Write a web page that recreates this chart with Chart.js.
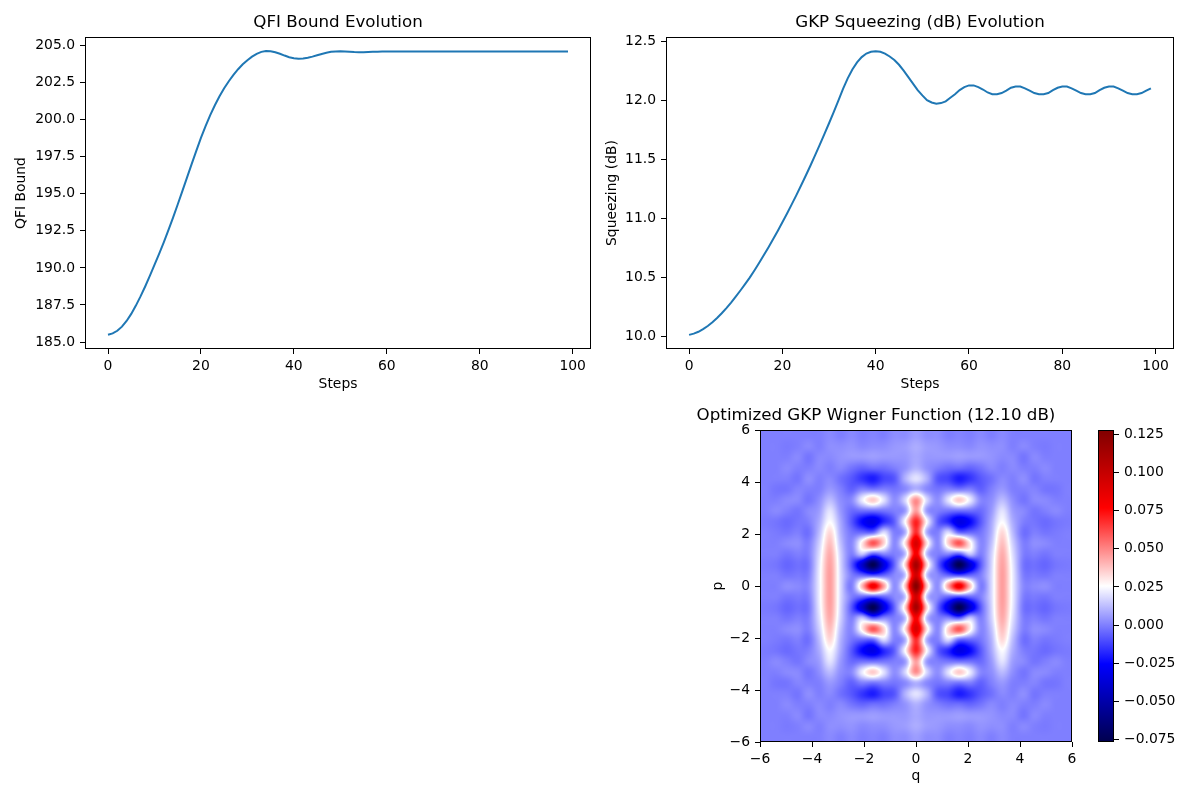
<!DOCTYPE html>
<html>
<head>
<meta charset="utf-8">
<script src="https://cdn.jsdelivr.net/npm/chart.js@4.4.0/dist/chart.umd.min.js"></script>
<style>
  body { margin: 0; background: #fff; }
  #page { position: relative; width: 1200px; height: 800px; }
  .box { position: absolute; }
</style>
</head>
<body>
<div id="page">
  <div class="box" style="left:0;top:0;width:600px;height:400px"><canvas id="qfiChart"></canvas></div>
  <div class="box" style="left:600px;top:0;width:600px;height:400px"><canvas id="sqzChart"></canvas></div>
  <div class="box" style="left:680px;top:395px;width:472px;height:405px"><canvas id="wignerChart"></canvas></div>
  <div class="box" style="left:1090px;top:395px;width:110px;height:405px"><canvas id="cbarChart"></canvas></div>
</div>
<script>
// one value per optimisation step (step = array index)
const qfiBound = [
  185.49, 185.58, 185.76, 186.04, 186.42, 186.90, 187.46, 188.08, 188.75, 189.46,
  190.20, 190.95, 191.73, 192.55, 193.40, 194.28, 195.18, 196.09, 197.00, 197.90,
  198.77, 199.57, 200.31, 200.98, 201.58, 202.12, 202.60, 203.03, 203.41, 203.74,
  204.02, 204.26, 204.45, 204.58, 204.64, 204.62, 204.55, 204.45, 204.33, 204.22,
  204.15, 204.12, 204.13, 204.18, 204.26, 204.35, 204.44, 204.52, 204.58, 204.61,
  204.62, 204.61, 204.59, 204.57, 204.56, 204.56, 204.57, 204.58, 204.59, 204.6,
  204.6, 204.61, 204.61, 204.6, 204.6, 204.6, 204.6, 204.6, 204.61, 204.6,
  204.6, 204.6, 204.6, 204.6, 204.6, 204.6, 204.6, 204.6, 204.6, 204.6,
  204.6, 204.6, 204.6, 204.6, 204.6, 204.6, 204.6, 204.6, 204.6, 204.6,
  204.6, 204.6, 204.6, 204.6, 204.6, 204.6, 204.6, 204.6, 204.6, 204.6
];
const squeezingDb = [
  10.010, 10.020, 10.036, 10.058, 10.085, 10.117, 10.153, 10.193, 10.237, 10.284,
  10.334, 10.386, 10.440, 10.495, 10.556, 10.619, 10.684, 10.751, 10.820, 10.891,
  10.964, 11.039, 11.116, 11.195, 11.276, 11.359, 11.444, 11.531, 11.620, 11.711,
  11.804, 11.899, 11.996, 12.095, 12.185, 12.26, 12.32, 12.365, 12.395, 12.41,
  12.415, 12.41, 12.395, 12.37, 12.34, 12.3, 12.25, 12.195, 12.14, 12.085,
  12.04, 12.0, 11.98, 11.97, 11.975, 11.99, 12.02, 12.05, 12.085, 12.11,
  12.125, 12.125, 12.11, 12.09, 12.065, 12.05, 12.05, 12.06, 12.08, 12.105,
  12.115, 12.115, 12.1, 12.08, 12.06, 12.05, 12.05, 12.06, 12.085, 12.105,
  12.115, 12.115, 12.1, 12.08, 12.06, 12.05, 12.05, 12.06, 12.085, 12.105,
  12.115, 12.115, 12.1, 12.08, 12.06, 12.05, 12.05, 12.06, 12.08, 12.1
];

const stepTicks = [0, 20, 40, 60, 80, 100];
const qfiTicks = [185, 187.5, 190, 192.5, 195, 197.5, 200, 202.5, 205];
const squeezingTicks = [10, 10.5, 11, 11.5, 12, 12.5];
const phaseTicks = [-6, -4, -2, 0, 2, 4, 6];
const colorbarTicks = [-0.075, -0.05, -0.025, 0, 0.025, 0.05, 0.075, 0.1, 0.125];

// Wigner function W(q,p) in thousandths, 29x29 cells over extent [-6,6]x[-6,6]
// rows run from p = +6 (top) down to p = -6, columns from q = -6 to q = +6
const wignerExtent = [-6, 6, -6, 6];
const wignerMilli = [
  [0,0,0,0,0,0,2,0,2,0,1,0,3,3,6,3,3,0,1,0,2,0,2,0,0,0,0,0,0],
  [0,0,-1,0,2,0,3,3,4,2,3,3,5,6,9,6,5,3,3,2,4,3,3,0,2,0,-1,0,0],
  [0,0,0,2,-2,2,2,4,5,5,6,5,5,5,8,5,5,5,6,5,5,4,2,2,-2,2,0,0,0],
  [0,0,2,0,0,2,0,2,-2,-5,-3,-3,0,4,10,4,0,-3,-3,-5,-2,2,0,2,0,0,2,0,0],
  [0,0,0,-2,3,0,2,-3,-8,-15,-20,-12,-8,10,20,10,-8,-12,-20,-15,-8,-3,2,0,3,-2,0,0,0],
  [0,-2,-2,1,0,0,5,0,-6,0,-2,0,-2,2,10,2,-2,0,-2,0,-6,0,5,0,0,1,-2,-2,0],
  [0,0,2,2,-2,3,12,3,2,22,36,20,3,18,48,18,3,20,36,22,2,3,12,3,-2,2,2,0,0],
  [0,2,0,-2,2,6,20,5,-4,-3,-3,-2,0,6,45,6,0,-2,-3,-3,-4,5,20,6,2,-2,0,2,0],
  [-1,-2,-4,-2,0,9,25,8,-8,-25,-33,-18,-6,26,70,26,-6,-18,-33,-25,-8,8,25,9,0,-2,-4,-2,-1],
  [0,-1,-2,0,-3,12,33,10,-2,-5,-5,18,0,10,68,10,0,18,-5,-5,-2,10,33,12,-3,0,-2,-1,0],
  [0,0,2,3,0,16,38,13,2,30,60,35,2,32,92,32,2,35,60,30,2,13,38,16,0,3,2,0,0],
  [0,0,-2,0,0,19,42,16,0,15,-5,2,0,13,80,13,0,2,-5,15,0,16,42,19,0,0,-2,0,0],
  [-1,-2,-5,-3,-2,21,44,17,-8,-40,-75,-35,-5,35,112,35,-5,-35,-75,-40,-8,17,44,21,-2,-3,-5,-2,-1],
  [0,0,-2,-1,0,22,45,18,0,-5,-10,-5,2,15,95,15,2,-5,-10,-5,0,18,45,22,0,-1,-2,0,0],
  [0,0,3,2,2,22,45,18,0,40,82,45,3,38,125,38,3,45,82,40,0,18,45,22,2,2,3,0,0],
  [0,0,-2,-1,0,22,45,18,0,-5,-10,-5,2,15,95,15,2,-5,-10,-5,0,18,45,22,0,-1,-2,0,0],
  [-1,-2,-5,-3,-2,21,44,17,-8,-40,-75,-35,-5,35,112,35,-5,-35,-75,-40,-8,17,44,21,-2,-3,-5,-2,-1],
  [0,0,-2,0,0,19,42,16,0,15,-5,2,0,13,80,13,0,2,-5,15,0,16,42,19,0,0,-2,0,0],
  [0,0,2,3,0,16,38,13,2,30,60,35,2,32,92,32,2,35,60,30,2,13,38,16,0,3,2,0,0],
  [0,-1,-2,0,-3,12,33,10,-2,-5,-5,18,0,10,68,10,0,18,-5,-5,-2,10,33,12,-3,0,-2,-1,0],
  [-1,-2,-4,-2,0,9,25,8,-8,-25,-33,-18,-6,26,70,26,-6,-18,-33,-25,-8,8,25,9,0,-2,-4,-2,-1],
  [0,2,0,-2,2,6,20,5,-4,-3,-3,-2,0,6,45,6,0,-2,-3,-3,-4,5,20,6,2,-2,0,2,0],
  [0,0,2,2,-2,3,12,3,2,22,36,20,3,18,48,18,3,20,36,22,2,3,12,3,-2,2,2,0,0],
  [0,-2,-2,1,0,0,5,0,-6,0,-2,0,-2,2,10,2,-2,0,-2,0,-6,0,5,0,0,1,-2,-2,0],
  [0,0,0,-2,3,0,2,-3,-8,-15,-20,-12,-8,10,20,10,-8,-12,-20,-15,-8,-3,2,0,3,-2,0,0,0],
  [0,0,2,0,0,2,0,2,-2,-5,-3,-3,0,4,10,4,0,-3,-3,-5,-2,2,0,2,0,0,2,0,0],
  [0,0,0,2,-2,2,2,4,5,5,6,5,5,5,8,5,5,5,6,5,5,4,2,2,-2,2,0,0,0],
  [0,0,-1,0,2,0,3,3,4,2,3,3,5,6,9,6,5,3,3,2,4,3,3,0,2,0,-1,0,0],
  [0,0,0,0,0,0,2,0,2,0,1,0,3,3,6,3,3,0,1,0,2,0,2,0,0,0,0,0,0]
];
const wignerMin = -0.0766;
const wignerMax = 0.1278;

// matplotlib "seismic" colormap stops
const seismic = [[0, 0, 0, 76.5], [0.25, 0, 0, 255], [0.5, 255, 255, 255], [0.75, 255, 0, 0], [1, 127.5, 0, 0]];

Chart.defaults.font.family = "'DejaVu Sans', sans-serif";
Chart.defaults.color = '#000';
Chart.defaults.animation = false;

const FONT = 13.9;
const TITLE_FONT = 16.7;

function fmt(v, digits) {
  return v.toFixed(digits).replace('-', '\u2212');
}

function axis(o) {
  const vertical = o.pos === 'left' || o.pos === 'right';
  return {
    type: 'linear',
    position: o.pos,
    min: o.min,
    max: o.max,
    afterBuildTicks: s => { s.ticks = o.ticks.map(v => ({ value: v })); },
    afterFit: s => { if (vertical) s.width = o.size; else s.height = o.size; },
    grid: { drawOnChartArea: false, drawTicks: true, tickLength: 5, color: '#000', lineWidth: 1 },
    border: { display: false },
    ticks: { color: '#000', font: { size: FONT }, padding: vertical ? 5 : 4, maxRotation: 0, autoSkip: false,
      callback: v => fmt(v, o.digits) },
    title: { display: !!o.title, text: o.title, color: '#000', font: { size: FONT }, padding: o.titlePad || 0 }
  };
}

function titleOpts(text, top, bottom, full) {
  return { display: true, text: text, fullSize: !!full, color: '#000',
    font: { size: TITLE_FONT, weight: 'normal' }, padding: { top: top, bottom: bottom } };
}

// axes frame (all four spines)
const framePlugin = {
  id: 'frame',
  afterDraw(chart) {
    const a = chart.chartArea, ctx = chart.ctx;
    const l = Math.round(a.left) + 0.5, t = Math.round(a.top) + 0.5;
    const r = Math.round(a.right) - 0.5, b = Math.round(a.bottom) - 0.5;
    ctx.save();
    ctx.strokeStyle = '#000';
    ctx.lineWidth = 1;
    ctx.strokeRect(l, t, r - l, b - t);
    ctx.restore();
  }
};

function seismicColor(v) {
  let f = (v - wignerMin) / (wignerMax - wignerMin);
  f = Math.max(0, Math.min(1, f));
  for (let k = 1; k < seismic.length; k++) {
    if (f <= seismic[k][0]) {
      const s0 = seismic[k - 1], s1 = seismic[k];
      const t = (f - s0[0]) / (s1[0] - s0[0]);
      return [s0[1] + t * (s1[1] - s0[1]), s0[2] + t * (s1[2] - s0[2]), s0[3] + t * (s1[3] - s0[3])];
    }
  }
  return seismic[seismic.length - 1].slice(1);
}

function cubic(p0, p1, p2, p3, t) {
  return p1 + 0.5 * t * (p2 - p0 + t * (2 * p0 - 5 * p1 + 4 * p2 - p3 + t * (3 * (p1 - p2) + p3 - p0)));
}

// bicubic resampling of the cell grid, like imshow does when it renders
function sampleWigner(fr, fc) {
  const n = wignerMilli.length, m = wignerMilli[0].length;
  const r0 = Math.floor(fr), c0 = Math.floor(fc);
  const vals = [];
  for (let k = -1; k <= 2; k++) {
    const row = wignerMilli[Math.min(n - 1, Math.max(0, r0 + k))];
    const g = j => row[Math.min(m - 1, Math.max(0, c0 + j))];
    vals.push(cubic(g(-1), g(0), g(1), g(2), fc - c0));
  }
  return cubic(vals[0], vals[1], vals[2], vals[3], fr - r0) / 1000;
}

const wignerPlugin = {
  id: 'wigner',
  beforeDatasetsDraw(chart) {
    const { ctx, chartArea: a, scales: { x, y } } = chart;
    const w = Math.round(a.right - a.left), h = Math.round(a.bottom - a.top);
    const off = document.createElement('canvas');
    off.width = w; off.height = h;
    const octx = off.getContext('2d');
    const img = octx.createImageData(w, h);
    const rows = wignerMilli.length, cols = wignerMilli[0].length;
    const [q0, q1, p0, p1] = wignerExtent;
    for (let j = 0; j < h; j++) {
      const p = y.getValueForPixel(a.top + j + 0.5);
      const fr = (p1 - p) / (p1 - p0) * rows - 0.5;
      for (let i = 0; i < w; i++) {
        const q = x.getValueForPixel(a.left + i + 0.5);
        const fc = (q - q0) / (q1 - q0) * cols - 0.5;
        const c = seismicColor(sampleWigner(fr, fc));
        const k = (j * w + i) * 4;
        img.data[k] = c[0]; img.data[k + 1] = c[1]; img.data[k + 2] = c[2]; img.data[k + 3] = 255;
      }
    }
    octx.putImageData(img, 0, 0);
    ctx.drawImage(off, a.left, a.top, a.right - a.left, a.bottom - a.top);
  }
};

const colorbarPlugin = {
  id: 'colorbar',
  beforeDatasetsDraw(chart) {
    const { ctx, chartArea: a, scales: { y } } = chart;
    const g = ctx.createLinearGradient(0, y.getPixelForValue(wignerMin), 0, y.getPixelForValue(wignerMax));
    seismic.forEach(s => g.addColorStop(s[0], `rgb(${s[1]},${s[2]},${s[3]})`));
    ctx.save();
    ctx.fillStyle = g;
    ctx.fillRect(a.left, a.top, a.right - a.left, a.bottom - a.top);
    ctx.restore();
  }
};

function lineChart(id, title, values, yOpts, pad) {
  new Chart(document.getElementById(id), {
    type: 'line',
    data: {
      datasets: [{
        data: values.map((v, i) => ({ x: i, y: v })),
        borderColor: '#1f77b4',
        borderWidth: 2,
        pointRadius: 0,
        tension: 0,
        fill: false
      }]
    },
    options: {
      responsive: true,
      maintainAspectRatio: false,
      layout: { padding: { left: 0, right: pad, top: 0, bottom: 0 } },
      plugins: {
        legend: { display: false },
        tooltip: { enabled: false },
        title: titleOpts(title, 13, 4, false)
      },
      scales: {
        x: axis({ pos: 'bottom', min: -4.95, max: 103.95, ticks: stepTicks, digits: 0, size: 51,
          title: 'Steps', titlePad: { top: 0, bottom: 7 } }),
        y: axis(yOpts)
      }
    },
    plugins: [framePlugin]
  });
}

lineChart('qfiChart', 'QFI Bound Evolution', qfiBound,
  { pos: 'left', min: 184.53, max: 205.58, ticks: qfiTicks, digits: 1, size: 85,
    title: 'QFI Bound', titlePad: { top: 13, bottom: 0 } }, 9);

lineChart('sqzChart', 'GKP Squeezing (dB) Evolution', squeezingDb,
  { pos: 'left', min: 9.89, max: 12.535, ticks: squeezingTicks, digits: 1, size: 66,
    title: 'Squeezing (dB)', titlePad: { top: 4, bottom: 0 } }, 26);

new Chart(document.getElementById('wignerChart'), {
  type: 'scatter',
  data: { datasets: [{ data: [] }] },
  options: {
    responsive: true,
    maintainAspectRatio: false,
    layout: { padding: { left: 0, right: 80, top: 0, bottom: 0 } },
    plugins: {
      legend: { display: false },
      tooltip: { enabled: false },
      title: titleOpts('Optimized GKP Wigner Function (12.10 dB)', 11, 4, true)
    },
    scales: {
      x: axis({ pos: 'bottom', min: wignerExtent[0], max: wignerExtent[1], ticks: phaseTicks, digits: 0, size: 58,
        title: 'q', titlePad: { top: 0, bottom: 15 } }),
      y: axis({ pos: 'left', min: wignerExtent[2], max: wignerExtent[3], ticks: phaseTicks, digits: 0, size: 80,
        title: 'p', titlePad: { top: 30, bottom: 0 } })
    }
  },
  plugins: [wignerPlugin, framePlugin]
});

new Chart(document.getElementById('cbarChart'), {
  type: 'scatter',
  data: { datasets: [{ data: [] }] },
  options: {
    responsive: true,
    maintainAspectRatio: false,
    layout: { padding: { left: 8, right: 0, top: 35, bottom: 58 } },
    plugins: { legend: { display: false }, tooltip: { enabled: false } },
    scales: {
      x: { display: false, min: 0, max: 1 },
      y: axis({ pos: 'right', min: wignerMin, max: wignerMax, ticks: colorbarTicks, digits: 3, size: 86 })
    }
  },
  plugins: [colorbarPlugin, framePlugin]
});
</script>
</body>
</html>
